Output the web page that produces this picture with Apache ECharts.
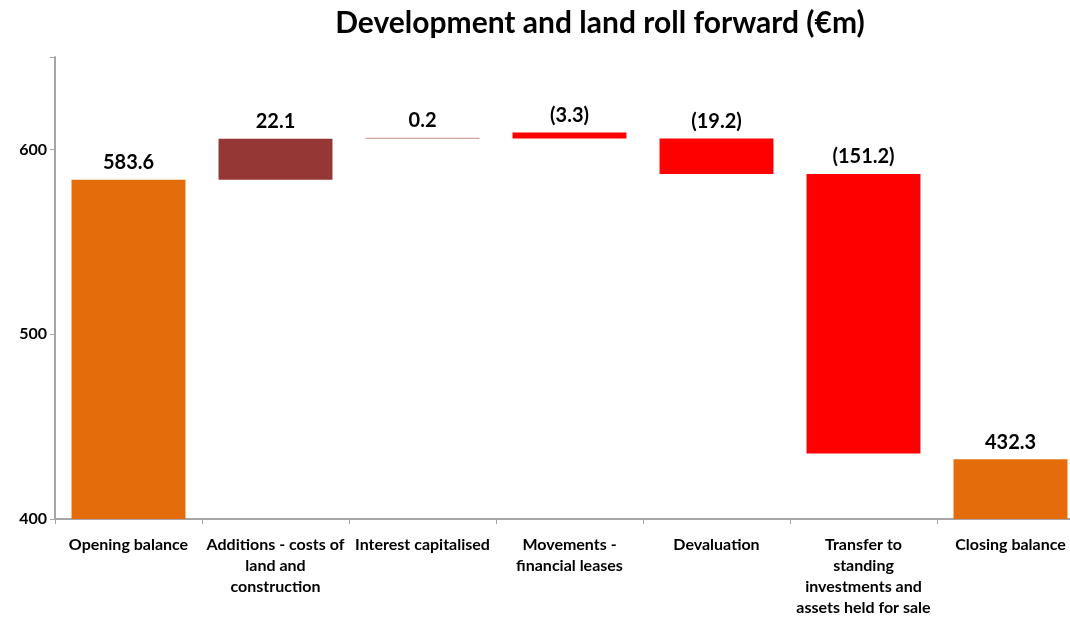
<!DOCTYPE html>
<html>
<head>
<meta charset="utf-8">
<script src="https://cdn.jsdelivr.net/npm/echarts@6/dist/echarts.min.js"></script>
<style>
  html, body { margin: 0; padding: 0; background: #fff; overflow: hidden; }
  /* wider than the window: the last category runs past the right edge, as in the original */
  #chart { width: 1084px; height: 618px; }
</style>
</head>
<body>
<div id="chart"></div>
<script>
// categories (line breaks as in the original chart)
const categories = [
  'Opening balance',
  'Additions - costs of\nland and\nconstruction',
  'Interest capitalised',
  'Movements -\nfinancial leases',
  'Devaluation',
  'Transfer to\nstanding\ninvestments and\nassets held for sale',
  'Closing balance'
];
// where each bar starts and ends (as drawn in the picture)
const barStart = [400, 583.6, 605.7, 605.9, 605.9, 586.7, 400];
const barEnd = [583.6, 605.7, 605.9, 609.2, 586.7, 435.5, 432.3];
const labels = ['583.6', '22.1', '0.2', '(3.3)', '(19.2)', '(151.2)', '432.3'];
const barColors = ['#E46C0A', '#953735', '#C98886', '#FF0000', '#FF0000', '#FF0000', '#E46C0A'];
const yTicks = [400, 500, 600];

const font = 'Lato, "Open Sans", sans-serif';

const baseData = barStart.map((s, i) => Math.min(s, barEnd[i]));
const sizeData = barStart.map((s, i) => Math.abs(barEnd[i] - s));

var myChart = echarts.init(document.getElementById('chart'));
myChart.setOption({
  animation: false,
  title: {
    text: 'Development and land roll forward (€m)',
    left: 595,
    textAlign: 'center',
    top: 3,
    textStyle: { fontFamily: font, fontSize: 30, fontWeight: 'bold', color: '#000' }
  },
  grid: { left: 55, right: 0, top: 57, bottom: 97, containLabel: false },
  xAxis: {
    type: 'category',
    data: categories,
    axisLine: { lineStyle: { color: '#A6A6A6', width: 2 } },
    axisTick: { show: true, alignWithLabel: false, length: 5, lineStyle: { color: '#A6A6A6', width: 1 } },
    axisLabel: {
      interval: 0,
      margin: 15,
      fontFamily: font,
      fontSize: 16,
      fontWeight: 'bold',
      color: '#000',
      lineHeight: 21
    }
  },
  yAxis: {
    type: 'value',
    min: 400,
    max: 650,
    interval: 100,
    splitLine: { show: false },
    axisLine: { show: true, lineStyle: { color: '#A6A6A6', width: 2 } },
    axisTick: { show: true, length: 5, lineStyle: { color: '#A6A6A6' } },
    axisLabel: {
      margin: 8,
      fontFamily: font,
      fontSize: 16,
      fontWeight: 'bold',
      color: '#000',
      formatter(v) { return yTicks.indexOf(v) >= 0 ? String(v) : ''; }
    }
  },
  series: [
    {
      type: 'bar',
      stack: 'wf',
      barWidth: '77.5%',
      silent: true,
      itemStyle: { color: 'transparent' },
      data: baseData
    },
    {
      type: 'bar',
      stack: 'wf',
      barWidth: '77.5%',
      barMinHeight: 1,
      data: sizeData.map((v, i) => ({ value: v, itemStyle: { color: barColors[i] } })),
      label: {
        show: true,
        position: 'top',
        distance: 7,
        fontFamily: font,
        fontSize: 20,
        fontWeight: 'bold',
        color: '#000',
        formatter(p) { return labels[p.dataIndex]; }
      }
    }
  ]
});
</script>
</body>
</html>
